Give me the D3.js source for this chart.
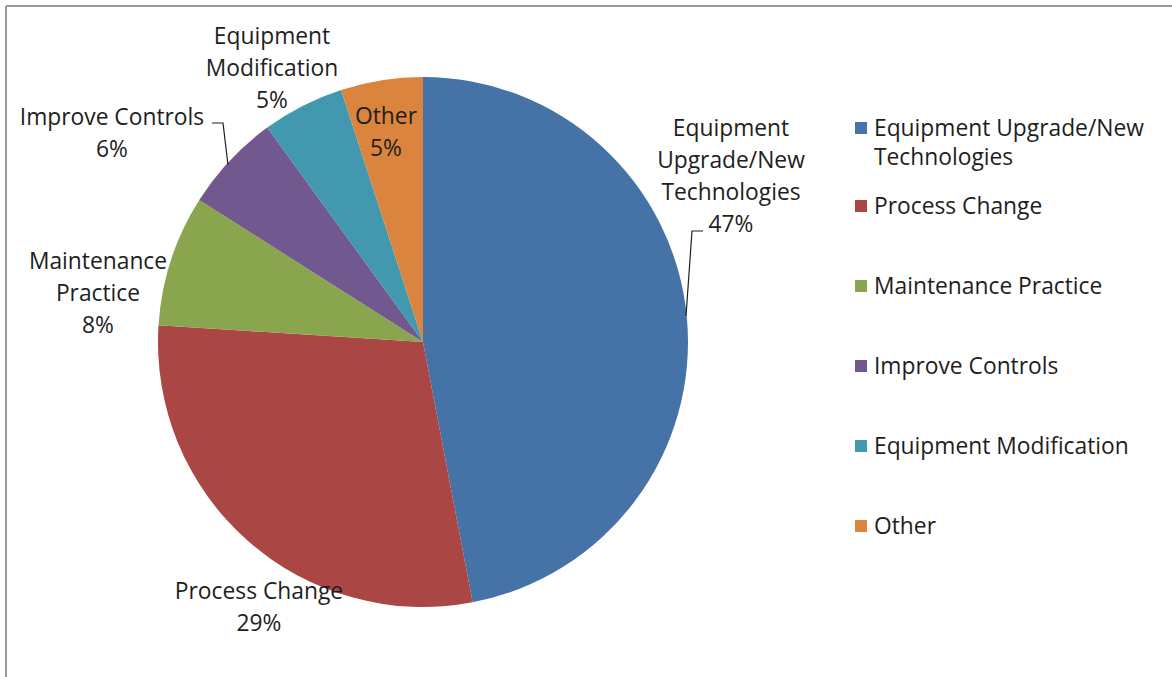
<!DOCTYPE html>
<html>
<head>
<meta charset="utf-8">
<script src="https://cdn.jsdelivr.net/npm/d3@7/dist/d3.min.js"></script>
<style>
  html, body { margin: 0; padding: 0; background: #fff; }
  svg { display: block; }
  text { font-family: "Open Sans", Lato, sans-serif; fill: #1e1e1e; }
</style>
</head>
<body>
<svg id="chart" width="1172" height="677"></svg>
<script>
// Share of projects by measure type (percent)
const categories = [
  "Equipment Upgrade/New Technologies",
  "Process Change",
  "Maintenance Practice",
  "Improve Controls",
  "Equipment Modification",
  "Other"
];
const values = [47, 29, 8, 6, 5, 5];
const colors = ["#4572A7", "#AA4643", "#89A54E", "#71588F", "#4198AF", "#DB843D"];

// Wrapped lines used for the slice labels and the legend entries
const sliceLabelLines = [
  ["Equipment", "Upgrade/New", "Technologies"],
  ["Process Change"],
  ["Maintenance", "Practice"],
  ["Improve Controls"],
  ["Equipment", "Modification"],
  ["Other"]
];
const legendLines = [
  ["Equipment Upgrade/New", "Technologies"],
  ["Process Change"],
  ["Maintenance Practice"],
  ["Improve Controls"],
  ["Equipment Modification"],
  ["Other"]
];

// Layout
const W = 1172, H = 677;
const cx = 423, cy = 342, R = 265;
const fontSize = 22.8, lineH = 32;

// Label anchor (centre of first line) and optional leader line for each slice
const labelLayout = [
  { x: 731, y: 128, leader: [[703, 231], [692, 231], [686, 316]] },
  { x: 259, y: 591 },
  { x: 98,  y: 261 },
  { x: 112, y: 117, leader: [[212, 123], [223, 123], [228, 165]] },
  { x: 272, y: 36 },
  { x: 386, y: 116 }
];

const svg = d3.select("#chart");

// Frame edges (top and left)
svg.append("line").attr("x1", 6).attr("x2", W).attr("y1", 6).attr("y2", 6)
  .attr("stroke", "#9a9a9a").attr("stroke-width", 2);
svg.append("line").attr("x1", 6).attr("x2", 6).attr("y1", 6).attr("y2", H)
  .attr("stroke", "#9a9a9a").attr("stroke-width", 2);

const data = categories.map((c, i) => ({ category: c, value: values[i], i }));

const pie = d3.pie().value(d => d.value).sort(null);
const arc = d3.arc().innerRadius(0).outerRadius(R);
const arcs = pie(data);

const g = svg.append("g").attr("transform", `translate(${cx},${cy})`);
g.selectAll("path.slice")
  .data(arcs)
  .join("path")
  .attr("class", "slice")
  .attr("d", arc)
  .attr("fill", d => colors[d.data.i]);

// Leader lines
const lineGen = d3.line();
labelLayout.forEach(l => {
  if (l.leader) {
    svg.append("path").attr("d", lineGen(l.leader))
      .attr("fill", "none").attr("stroke", "#1e1e1e").attr("stroke-width", 1.2);
  }
});

// Slice labels: name lines followed by the percentage
arcs.forEach((a, i) => {
  const lay = labelLayout[i];
  const lines = sliceLabelLines[i].concat([a.data.value + "%"]);
  const t = svg.append("text")
    .attr("text-anchor", "middle")
    .attr("font-size", fontSize);
  lines.forEach((s, k) => {
    t.append("tspan")
      .attr("x", lay.x)
      .attr("y", lay.y + k * lineH)
      .attr("dy", "0.35em")
      .text(s);
  });
});

// Legend rows, evenly spaced
const legendX = 855, legendTop = 128, legendStep = 80;
const legY = d3.scalePoint().domain(d3.range(data.length))
  .range([legendTop, legendTop + legendStep * (data.length - 1)]);
const legend = svg.append("g");
data.forEach((d, i) => {
  const y = i === 0 ? legendTop : legY(i) - 2;
  const row = legend.append("g");
  row.append("rect")
    .attr("x", legendX).attr("y", y - 6)
    .attr("width", 12).attr("height", 12)
    .attr("fill", colors[i]);
  const t = row.append("text").attr("font-size", fontSize);
  legendLines[i].forEach((s, k) => {
    t.append("tspan")
      .attr("x", legendX + 19)
      .attr("y", y + k * 29)
      .attr("dy", "0.35em")
      .text(s);
  });
});
</script>
</body>
</html>
